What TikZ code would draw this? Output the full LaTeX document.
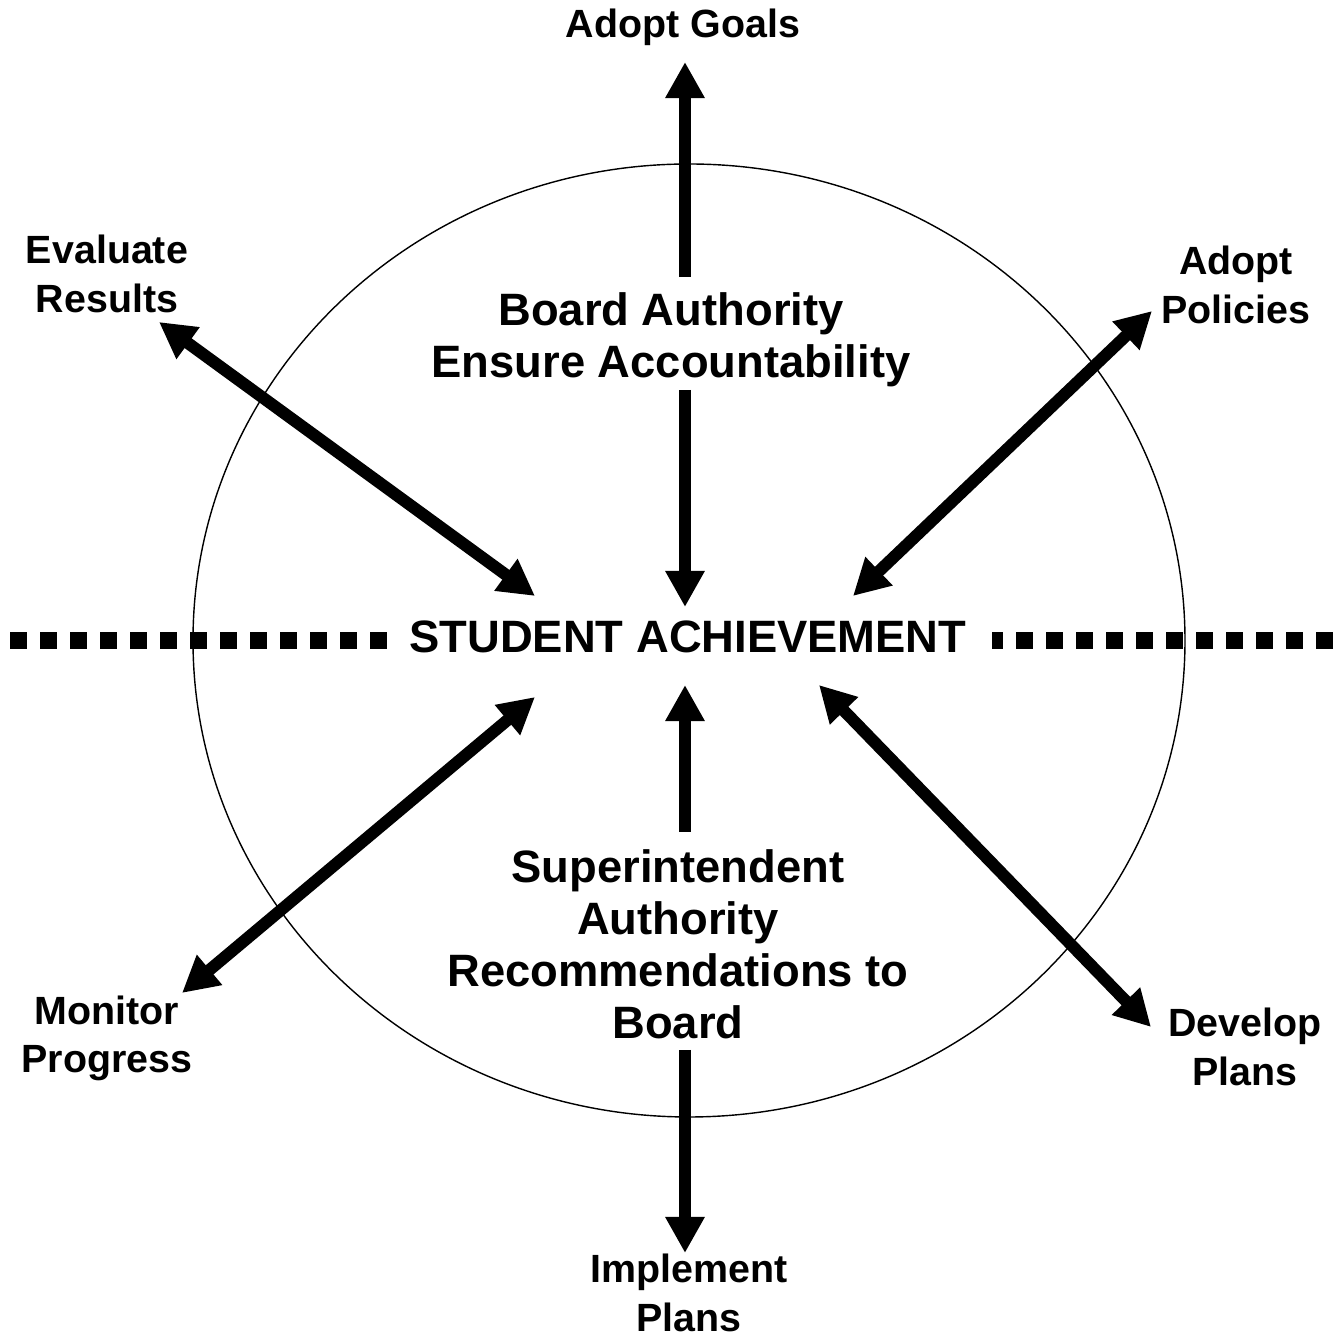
\documentclass[tikz,border=0pt]{standalone}
\usepackage{fontspec}
\setmainfont{Liberation Sans}
\usetikzlibrary{arrows.meta}
\begin{document}
\begin{tikzpicture}[x=0.01cm, y=-0.01cm,
  big/.style = {font=\fontsize{12.9}{14.8}\selectfont\bfseries, align=center, inner sep=0pt},
  lbl/.style = {font=\fontsize{11.2}{13.7}\selectfont\bfseries, align=center, inner sep=0pt},
  arr/.style = {line width=0.12cm, -{Triangle[length=0.36cm, width=0.37cm]}},
  both/.style = {line width=0.12cm, {Triangle[length=0.36cm, width=0.37cm]}-{Triangle[length=0.36cm, width=0.37cm]}},
  dotline/.style = {line width=0.17cm, dash pattern=on 0.17cm off 0.13cm}]
\useasboundingbox (0,0) rectangle (1344,1337);
\draw[line width=0.4pt] (689,640.5) ellipse [x radius=496, y radius=476.5];
% dotted divider
\draw[dotline] (10,641) -- (390,641);
\draw[dotline] (1333,641) -- (992,641);
% texts
\node[big] (student) at (688,637) {STUDENT ACHIEVEMENT};
\node[big] (board) at (671,340) {Board Authority\\Ensure Accountability};
\node[big] (super) at (678,944) {Superintendent\\Authority\\Recommendations to\\Board};
\node[lbl] (goals) at (683,27) {Adopt Goals};
\node[lbl] (policies) at (1236,285) {Adopt\\Policies};
\node[lbl] (evaluate) at (107,274) {Evaluate\\Results};
\node[lbl] (monitor) at (107,1038) {Monitor\\Progress};
\node[lbl] (develop) at (1245,1047) {Develop\\Plans};
\node[lbl] (implement) at (689,1293) {Implement\\Plans};
% arrow ends
\coordinate (goalsOut) at (685,277);
\coordinate (goalsTip) at (685,62);
\coordinate (boardOut) at (685,390);
\coordinate (boardTip) at (685,607);
\coordinate (superOut) at (685,832);
\coordinate (superTip) at (685,685);
\coordinate (implOut) at (685,1050);
\coordinate (implTip) at (685,1253);
\coordinate (evalTip) at (159,322);
\coordinate (evalIn) at (535,596);
\coordinate (polTip) at (1152,311);
\coordinate (polIn) at (853,596);
\coordinate (monTip) at (182,993);
\coordinate (monIn) at (535,697);
\coordinate (devTip) at (1151,1027);
\coordinate (devIn) at (819,685);
% arrows
\draw[arr] (goalsOut) -- (goalsTip);
\draw[arr] (boardOut) -- (boardTip);
\draw[arr] (superOut) -- (superTip);
\draw[arr] (implOut) -- (implTip);
\draw[both] (evalTip) -- (evalIn);
\draw[both] (polTip) -- (polIn);
\draw[both] (monTip) -- (monIn);
\draw[both] (devTip) -- (devIn);
\end{tikzpicture}
\end{document}
